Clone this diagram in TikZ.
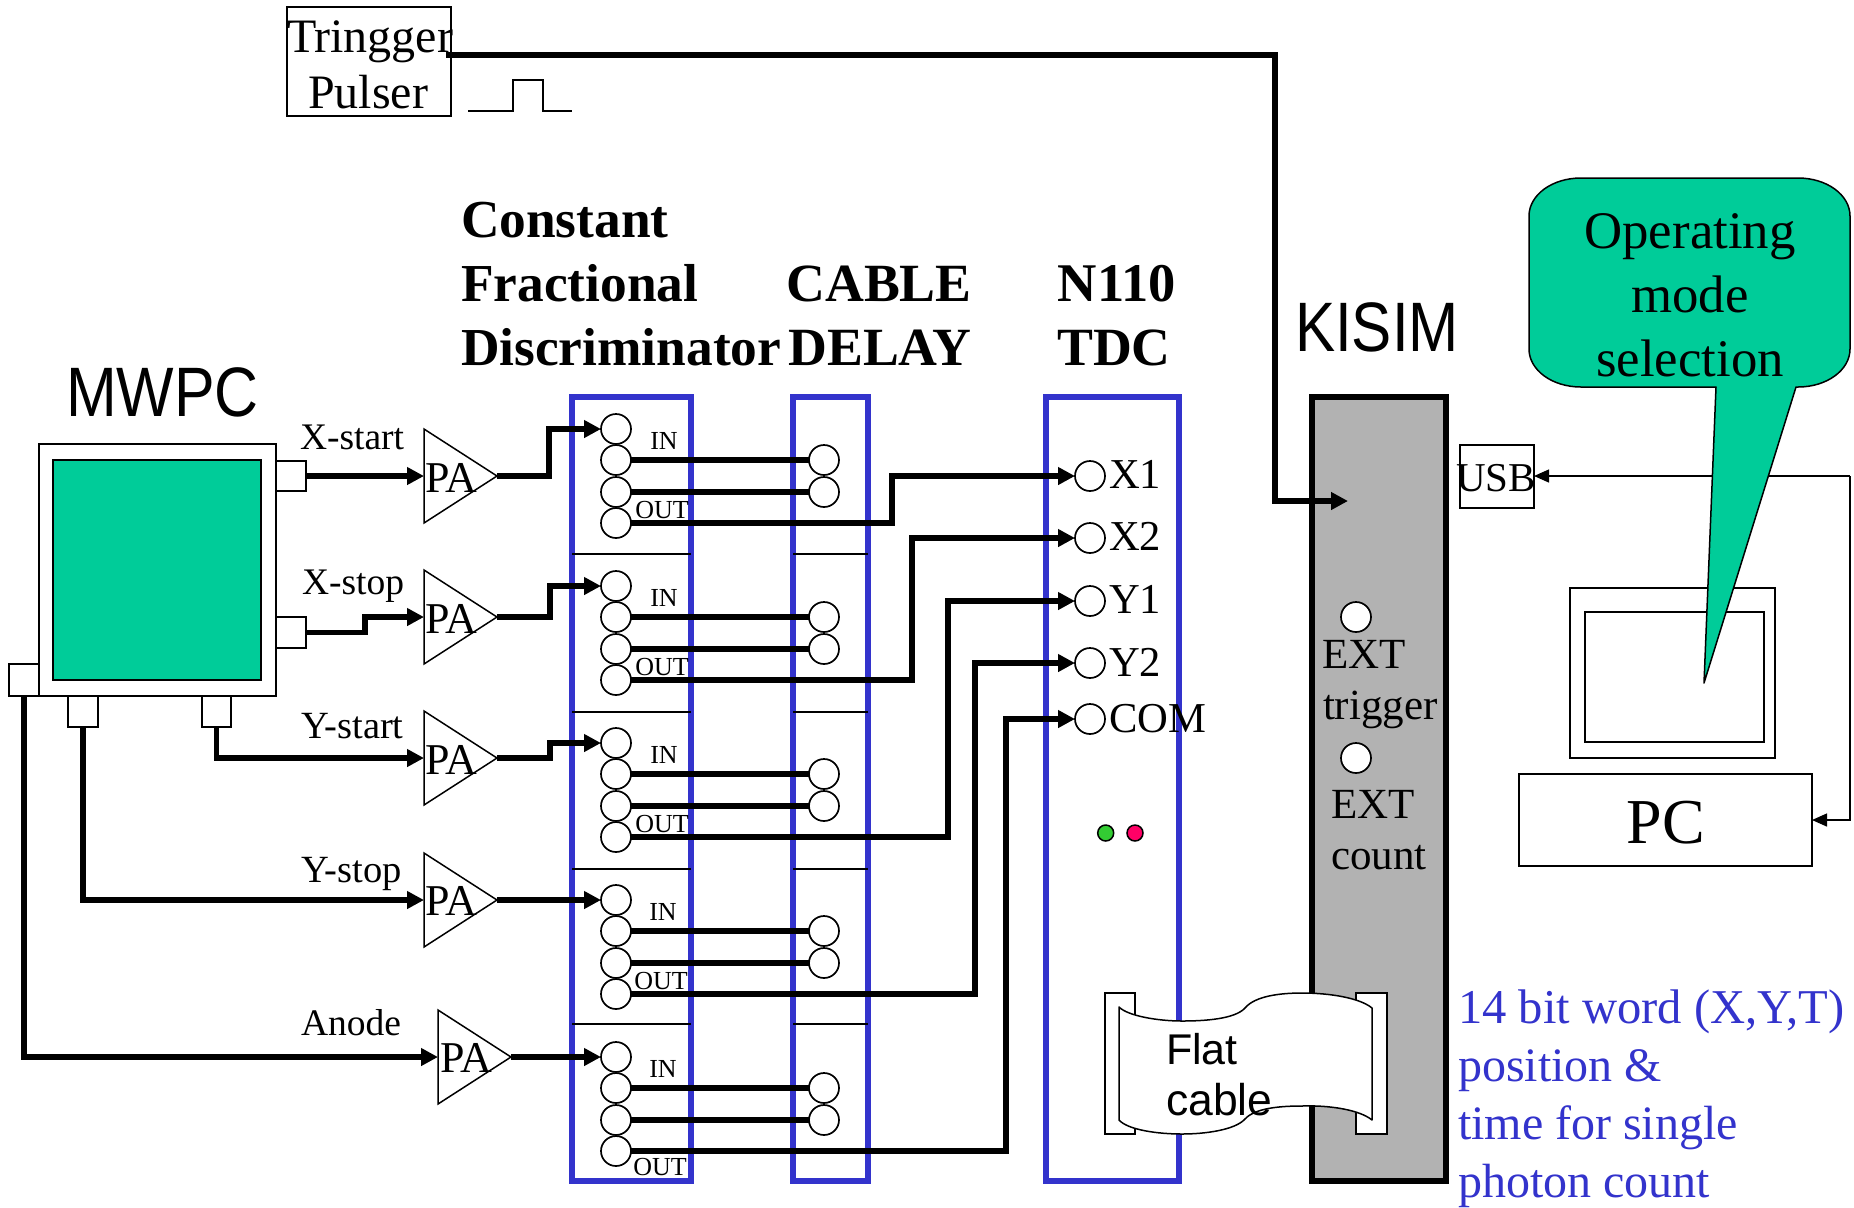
\documentclass[tikz,border=0pt]{standalone}
\usepackage{fontspec}
\setmainfont{Liberation Serif}
\setsansfont{Liberation Sans}
\usetikzlibrary{arrows.meta}
\definecolor{bluebox}{HTML}{3333CC}
\definecolor{teal}{HTML}{00CC99}
\definecolor{greybox}{HTML}{B2B2B2}
\definecolor{ledg}{HTML}{33CC33}
\definecolor{ledp}{HTML}{FF0066}
% font size given in reference pixels (1 px = 0.5 pt)
\newcommand{\fpx}[1]{\fontsize{\fpeval{#1/2}pt}{\fpeval{#1/2*1.2}pt}\selectfont}
% rectangle node from two corners: [opts]{name}{x1}{y1}{x2}{y2}
\newcommand{\rectn}[6][]{\node[boxn,#1,minimum width={(#5-#3)*0.5pt},minimum height={(#6-#4)*0.5pt}] (#2) at ({(#3+#5)/2},{(#4+#6)/2}) {};}
\tikzset{
  x=0.5pt,y=-0.5pt,
  boxn/.style={draw=black,line width=0.75pt,fill=white,inner sep=0pt,outer sep=0pt,rectangle},
  bluen/.style={draw=bluebox,line width=2.75pt,fill=none},
  thinl/.style={line width=0.75pt},
  wire/.style={line width=2.8pt,line join=miter},
  wirea/.style={wire,-{Triangle[length=8.5pt,width=8.5pt]}},
  thina/.style={line width=0.7pt,-{Triangle[length=7.5pt,width=6.5pt]}},
  port/.style={circle,draw=black,line width=0.85pt,fill=white,minimum size=15pt,inner sep=0pt,outer sep=0pt},
  led/.style={circle,draw=black,line width=0.75pt,minimum size=8pt,inner sep=0pt,outer sep=0pt},
  txt/.style={anchor=base west,inner sep=0pt,outer sep=0pt,text=black},
  ctxt/.style={anchor=base,inner sep=0pt,outer sep=0pt,text=black},
  btxt/.style={anchor=base west,inner sep=0pt,outer sep=0pt,text=bluebox,font=\fpx{48}},
  amp/.style={draw=black,line width=0.75pt,fill=white,line join=miter},
}
\begin{document}
\begin{tikzpicture}
\useasboundingbox (0,0) rectangle (1854,1207);

% enclosures
\rectn[bluen]{cfd}{572}{397}{691}{1181}
\rectn[bluen]{dly}{793}{397}{868}{1181}
\rectn[bluen]{tdc}{1046}{397}{1179}{1181}
\rectn[draw=black,line width=2.75pt,fill=greybox]{kisim}{1312}{397}{1446}{1181}

% dividers
\foreach \yy/\i in {554/1,712/2,869/3,1024/4}{
  \draw[thinl] (572,\yy) -- (691,\yy);
  \draw[thinl] (793,\yy) -- (868,\yy);
}

% MWPC
\rectn{xsb}{276}{461}{306}{491}
\rectn{xeb}{276}{617}{306}{648}
\rectn{anb}{9}{664}{39}{696}
\rectn{yeb}{68}{696}{98}{727}
\rectn{ysb}{202}{696}{231}{727}
\rectn{mwpc}{39}{444}{276}{696}
\rectn[fill=teal]{mwpcin}{53}{460}{261}{680}

% Preamplifiers
\foreach \n/\xa/\yy in {1/424/476,2/424/617,3/424/758,4/424/900,5/438/1057}{
  \pgfmathsetmacro{\xb}{\xa+73}
  \coordinate (pa\n in) at (\xa,\yy);
  \coordinate (pa\n out) at (\xb,\yy);
  \draw[amp] (\xa,\yy-47) -- (\xb,\yy) -- (\xa,\yy+47) -- cycle;
}

% CFD and delay ports
\foreach \g/\yy in {1/429,2/586,3/743,4/900,5/1057}{
  \node[port] (c\g a) at (616,\yy) {};
  \node[port] (c\g b) at (616,\yy+31) {};
  \node[port] (c\g c) at (616,\yy+63) {};
  \node[port] (c\g d) at (616,\yy+94) {};
  \node[port] (d\g b) at (824,\yy+31) {};
  \node[port] (d\g c) at (824,\yy+63) {};
  \draw[wire] (c\g b) -- (d\g b);
  \draw[wire] (c\g c) -- (d\g c);
}

% TDC ports
\node[port] (x1) at (1090,476) {};
\node[port] (x2) at (1090,538) {};
\node[port] (y1) at (1090,601) {};
\node[port] (y2) at (1090,663) {};
\node[port] (com) at (1090,719) {};
\node[led,fill=ledg] (ledA) at (1105.7,833) {};
\node[led,fill=ledp] (ledB) at (1135,833) {};

% MWPC to preamps
\draw[wirea] (xsb.east) -- (pa1in);
\draw[wirea] (xeb.east) -- ++(59,0) |- (pa2in);
\draw[wirea] (ysb.south) |- (pa3in);
\draw[wirea] (yeb.south) |- (pa4in);
\draw[wirea] (anb.south) |- (pa5in);

% Preamps to CFD
\draw[wirea] (pa1out) -- ++(52,0) |- (c1a.west);
\draw[wirea] (pa2out) -- ++(53,0) |- (c2a.west);
\draw[wirea] (pa3out) -- ++(53,0) |- (c3a.west);
\draw[wirea] (pa4out) -- (c4a.west);
\draw[wirea] (pa5out) -- (c5a.west);

% CFD to TDC
\draw[wirea] (c1d.east) -- ++(261,0) |- (x1.west);
\draw[wirea] (c2d.east) -- ++(281,0) |- (x2.west);
\draw[wirea] (c3d.east) -- ++(317,0) |- (y1.west);
\draw[wirea] (c4d.east) -- ++(344,0) |- (y2.west);
\draw[wirea] (c5d.east) -- ++(375,0) |- (com.west);

% Trigger pulser
\rectn{pulser}{287}{7}{451}{116}
\coordinate (trigout) at (446,55);
\coordinate (kisimin) at (1348,501);
\draw[wirea] (trigout) -- ++(829,0) |- (kisimin);
\draw[thinl] (468,111) -- (513,111) -- (513,80) -- (543,80) -- (543,111) -- (572,111);

% KISIM ports
\node[port] (ext1) at (1356,617) {};
\node[port] (ext2) at (1356,758) {};

% PC
\rectn{usb}{1460}{445}{1534}{508}
\rectn{mon}{1570}{588}{1775}{758}
\rectn{scr}{1585}{612}{1764}{742}
\rectn{pc}{1519}{774}{1812}{866}
\coordinate (rbus) at (1850,476);
\draw[thina] (rbus) -- (usb.east |- rbus);
\draw[thina] (rbus) |- (pc.east |- 0,820);

% Call-out
\draw[draw=black,line width=0.75pt,fill=teal,line join=round]
  (1581,178) -- (1798,178)
  .. controls (1827,178) and (1850,195) .. (1850,216)
  -- (1850,349)
  .. controls (1850,370) and (1827,387) .. (1798,387)
  -- (1796,387) -- (1704,683) -- (1716,387) -- (1581,387)
  .. controls (1552,387) and (1529,370) .. (1529,349)
  -- (1529,216)
  .. controls (1529,195) and (1552,178) .. (1581,178) -- cycle;

% Flat cable
\rectn{lbr}{1105}{993}{1135}{1134}
\rectn{rbr}{1356}{993}{1387}{1134}
\draw[black,line width=0.75pt,fill=white,line join=round]
  (1119,1007) .. controls (1128,1016) and (1158,1021) .. (1182,1021)
  .. controls (1205,1021) and (1235,1019) .. (1245,1008)
  .. controls (1255,996) and (1280,993) .. (1302,993)
  .. controls (1330,993) and (1360,998) .. (1372,1008)
  -- (1372,1120)
  .. controls (1360,1110) and (1330,1105) .. (1302,1106)
  .. controls (1280,1106) and (1255,1108) .. (1245,1119)
  .. controls (1235,1130) and (1205,1134) .. (1182,1134)
  .. controls (1158,1134) and (1128,1130) .. (1119,1120)
  -- cycle;
\node[txt,font=\sffamily\fpx{43}] (flat1) at (1166,1064) {Flat};
\node[txt,font=\sffamily\fpx{44.5}] (flat2) at (1166,1115) {cable};

% Headings
\node[txt,font=\bfseries\fpx{53.4}] (h1) at (461,237) {Constant};
\node[txt,font=\bfseries\fpx{53.4}] (h2) at (461,301) {Fractional};
\node[txt,font=\bfseries\fpx{53.4}] (h3) at (461,365) {Discriminator};
\node[ctxt,font=\bfseries\fpx{53.8}] (h4) at (879,301) {CABLE};
\node[ctxt,font=\bfseries\fpx{53.8}] (h5) at (880,365) {DELAY};
\node[ctxt,font=\bfseries\fpx{54.5}] (h6) at (1117,301) {N110};
\node[ctxt,font=\bfseries\fpx{53.8}] (h7) at (1114,365) {TDC};
\node[txt,font=\sffamily\fpx{70}] (mwpct) at (66,416) {\scalebox{.87}[1]{MWPC}};
\node[txt,font=\sffamily\fpx{70}] (kisimt) at (1295,351) {\scalebox{.86}[1]{KISIM}};

% Signal labels
\node[txt,font=\fpx{37.5}] (l1) at (300,449) {X-start};
\node[txt,font=\fpx{37.5}] (l2) at (302,594) {X-stop};
\node[txt,font=\fpx{38.5}] (l3) at (301,738) {Y-start};
\node[txt,font=\fpx{38.5}] (l4) at (301,882) {Y-stop};
\node[txt,font=\fpx{37.5}] (l5) at (301,1035) {Anode};

% PA text
\foreach \n/\xa/\yy in {1/425/492,2/425/633,3/425/774,4/425/915,5/440/1072}{
  \node[txt,font=\fpx{44}] (patxt\n) at (\xa,\yy) {PA};
}

% IN / OUT
\foreach \g/\yy/\ix/\ox/\oy in {1/429/664/662/518,2/586/664/662/675,3/743/664/662/832,4/900/663/661/989,5/1057/663/660/1175}{
  \node[ctxt,font=\fpx{26}] (in\g) at (\ix,\yy+20) {IN};
  \node[ctxt,font=\fpx{26}] (out\g) at (\ox,\oy) {OUT};
}

% TDC labels
\node[txt,font=\fpx{42.6}] (tx1) at (1109,488) {X1};
\node[txt,font=\fpx{42.6}] (tx2) at (1109,550) {X2};
\node[txt,font=\fpx{42.6}] (ty1) at (1109,613) {Y1};
\node[txt,font=\fpx{42.6}] (ty2) at (1109,676) {Y2};
\node[txt,font=\fpx{42.6}] (tcom) at (1109,732) {COM};

% KISIM labels
\node[txt,font=\fpx{43}] (k1) at (1322,668) {EXT};
\node[txt,font=\fpx{43}] (k2) at (1323,719) {trigger};
\node[txt,font=\fpx{43}] (k3) at (1331,818) {EXT};
\node[txt,font=\fpx{43}] (k4) at (1331,869) {count};

% Others
\node[txt,font=\fpx{48}] (tr1) at (287,52) {Tringger};
\node[txt,font=\fpx{48}] (tr2) at (308,108) {Pulser};
\node[txt,font=\fpx{41}] (usbt) at (1456,491) {USB};
\node[ctxt,font=\fpx{64}] (pct) at (1666,843) {PC};
\node[ctxt,font=\fpx{52.8}] (o1) at (1690,248) {Operating};
\node[ctxt,font=\fpx{52.8}] (o2) at (1690,312) {mode};
\node[ctxt,font=\fpx{52.8}] (o3) at (1690,376) {selection};

% Blue note
\node[btxt,font=\fpx{48.6}] (b1) at (1458,1023) {14 bit word (X,Y,T)};
\node[btxt] (b2) at (1458,1081) {position \&};
\node[btxt] (b3) at (1458,1139) {time for single};
\node[btxt] (b4) at (1458,1197) {photon count};
\end{tikzpicture}
\end{document}
